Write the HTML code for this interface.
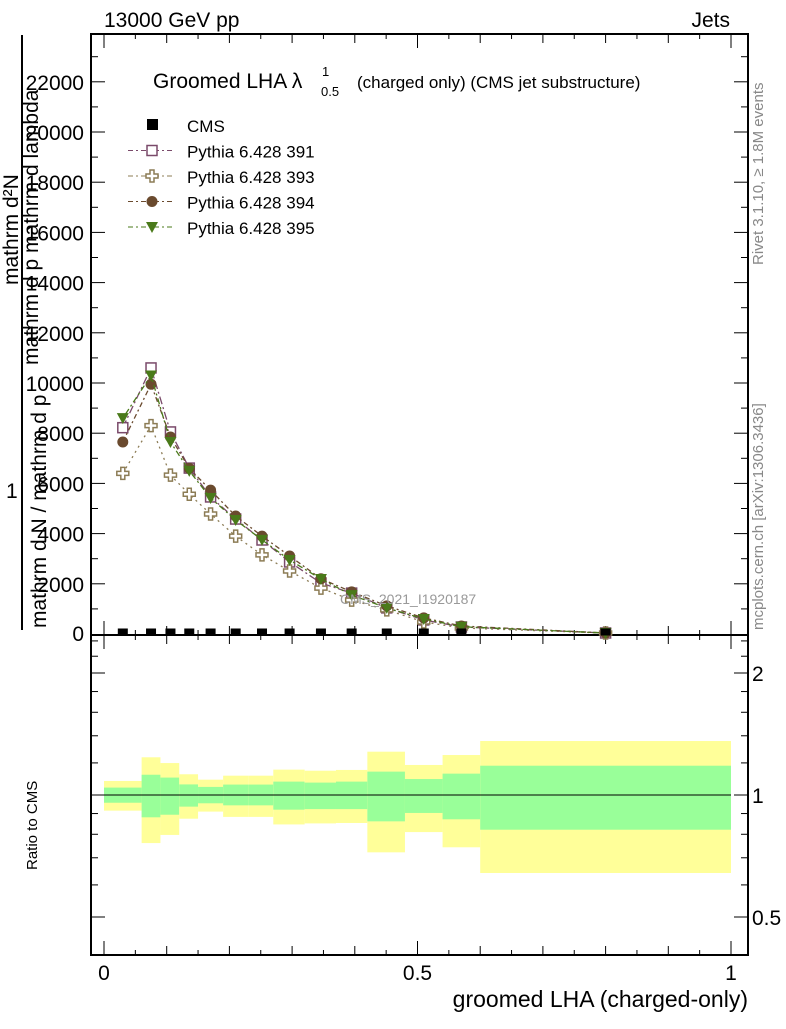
<!DOCTYPE html>
<html><head><meta charset="utf-8"><style>
body{margin:0;background:#fff;}
svg text{font-family:"Liberation Sans",sans-serif;}
</style></head><body>
<svg id="chart" width="786" height="1024" xmlns="http://www.w3.org/2000/svg">
<g id="g"></g>
</svg>
<script>
const binEdges=[0,0.06,0.09,0.12,0.15,0.19,0.23,0.27,0.32,0.37,0.42,0.48,0.54,0.6,1.0];
const xCenters=[0.03,0.075,0.106,0.136,0.17,0.21,0.252,0.296,0.346,0.395,0.451,0.51,0.57,0.8];
const cmsVals=[60,60,60,60,60,60,60,60,60,60,60,60,60,60];
const p391=[8220,10600,8050,6610,5460,4580,3745,2870,2030,1630,1040,560,280,40];
const p393=[6400,8300,6330,5570,4780,3900,3150,2510,1830,1350,960,480,240,40];
const p394=[7650,9950,7850,6600,5730,4700,3900,3110,2200,1680,1120,640,320,40];
const p395=[8600,10300,7650,6500,5420,4540,3750,2950,2190,1550,1040,600,290,40];
const yellowHi=[1.083,1.239,1.199,1.125,1.091,1.116,1.116,1.155,1.148,1.153,1.279,1.186,1.255,1.359];
const yellowLo=[0.915,0.761,0.797,0.874,0.910,0.883,0.883,0.846,0.851,0.853,0.722,0.810,0.743,0.642];
const greenHi=[1.043,1.122,1.104,1.062,1.047,1.061,1.061,1.079,1.073,1.079,1.142,1.095,1.129,1.181];
const greenLo=[0.957,0.881,0.894,0.936,0.954,0.943,0.943,0.920,0.923,0.923,0.861,0.903,0.871,0.821];
const mainTicks=[2000,4000,6000,8000,10000,12000,14000,16000,18000,20000,22000];
const ratioTicks=[0.5,1,2];

const NS="http://www.w3.org/2000/svg";
const g=document.getElementById('g');
function el(t,a,p){const e=document.createElementNS(NS,t);for(const k in a)e.setAttribute(k,a[k]);(p||g).appendChild(e);return e;}
const L=91,R=748,T=34,MB=635,RB=955;
const X=v=>104+v*627;
const Y=v=>634-v*0.0251;
const YR=v=>795-Math.log2(v)*122;

binEdges.slice(0,-1).forEach((e,i)=>{
 const x0=X(e),x1=X(binEdges[i+1]);
 const r=el('rect',{x:x0,y:YR(yellowHi[i]),width:x1-x0,height:YR(yellowLo[i])-YR(yellowHi[i]),fill:'#ffff99'});
 
 
 const r2=el('rect',{x:x0,y:YR(greenHi[i]),width:x1-x0,height:YR(greenLo[i])-YR(greenHi[i]),fill:'#99ff99'});
 
 
});
el('line',{x1:X(0),x2:X(1),y1:YR(1),y2:YR(1),stroke:'#000','stroke-width':1});

el('rect',{x:L,y:T,width:R-L,height:MB-T,fill:'none',stroke:'#000','stroke-width':2});
el('rect',{x:L,y:MB,width:R-L,height:RB-MB,fill:'none',stroke:'#000','stroke-width':2});

for(let v=1000;v<=23000;v+=1000){
 const maj=v%2000==0, y=Y(v);
 el('line',{x1:L,x2:L+(maj?14:7),y1:y,y2:y,stroke:'#000'});
 el('line',{x1:R,x2:R-(maj?14:7),y1:y,y2:y,stroke:'#000'});
}
mainTicks.forEach(v=>{const t=el('text',{x:84,y:Y(v)+8,'text-anchor':'end','font-size':21});t.textContent=v;
 });
{const t=el('text',{x:84,y:641,'text-anchor':'end','font-size':21});t.textContent='0';}
for(let i=0;i<=20;i++){const v=i*0.05,x=X(v),maj=i%10==0,mid=i%2==0;
 const h=maj?14:(mid?9:5);
 el('line',{x1:x,x2:x,y1:MB,y2:MB-h,stroke:'#000'});el('line',{x1:x,x2:x,y1:T,y2:T+h,stroke:'#000'});
 el('line',{x1:x,x2:x,y1:RB,y2:RB-h,stroke:'#000'});el('line',{x1:x,x2:x,y1:MB,y2:MB+h,stroke:'#000'});}
[[0,'0'],[0.5,'0.5'],[1,'1']].forEach(([v,s])=>{const t=el('text',{x:X(v),y:980,'text-anchor':'middle','font-size':21});t.textContent=s;
 });
[0.4,0.5,0.6,0.7,0.8,0.9,1,1.2,1.4,1.6,1.8,2,2.2,2.4].forEach(v=>{const y=YR(v);if(y<MB||y>RB)return;
 const maj=ratioTicks.includes(v);el('line',{x1:L,x2:L+(maj?14:7),y1:y,y2:y,stroke:'#000'});el('line',{x1:R,x2:R-(maj?14:7),y1:y,y2:y,stroke:'#000'});});
ratioTicks.forEach(v=>{const t=el('text',{x:752,y:YR(v)+8,'font-size':21});t.textContent=String(v);
 });

const series=[[p391,'#7a4a6a','8,3,2,3','sq'],[p393,'#8c7c55','2,4','cross'],[p394,'#6a4a2e','5,3,2,3','circ'],[p395,'#4a7a1a','2,3,6,3','tri']];
function marker(type,x,y,c){
 if(type=='sq')return el('rect',{x:x-5,y:y-5,width:10,height:10,fill:'#fff',stroke:c,'stroke-width':1.5});
 if(type=='circ')return el('circle',{cx:x,cy:y,r:5.5,fill:c});
 if(type=='tri')return el('path',{d:`M${x-6},${y-5}L${x+6},${y-5}L${x},${y+6}Z`,fill:c});
 if(type=='cross')return el('path',{d:`M${x-2},${y-6}h4v4h4v4h-4v4h-4v-4h-4v-4h4Z`,fill:'#fff',stroke:c,'stroke-width':1.5});
}
series.forEach(([vals,c,dash,m])=>{
 const pl=el('polyline',{points:vals.map((v,i)=>X(xCenters[i])+','+Y(v)).join(' '),fill:'none',stroke:c,'stroke-width':1.3,'stroke-dasharray':dash});
 
 vals.forEach((v,i)=>{const mk=marker(m,X(xCenters[i]),Y(v),c);});
});
cmsVals.forEach((v,i)=>{const r=el('rect',{x:X(xCenters[i])-5,y:Y(v)-4,width:10,height:7,fill:'#000'});
 });

const leg=[['CMS',null],['Pythia 6.428 391',0],['Pythia 6.428 393',1],['Pythia 6.428 394',2],['Pythia 6.428 395',3]];
leg.forEach(([s,k],i)=>{const y=125+i*25.5;
 if(k===null){el('rect',{x:147,y:y-6,width:11,height:11,fill:'#000'});}
 else{const [v,c,d,m]=series[k];el('line',{x1:128,x2:175,y1:y,y2:y,stroke:c,'stroke-dasharray':'5,3,2,3'});marker(m,152,y,c);}
 const t=el('text',{x:187,y:y+7,'font-size':17});t.textContent=s;
 });
</script>
<svg width="786" height="1024" style="position:absolute;left:0;top:0" xmlns="http://www.w3.org/2000/svg">
<text x="104" y="27" font-size="21">13000 GeV pp</text>
<text x="730" y="27" font-size="21" text-anchor="end">Jets</text>
<text x="153" y="88" font-size="21">Groomed LHA λ</text>
<text x="322" y="76" font-size="13">1</text>
<text x="321" y="96" font-size="13">0.5</text>
<text x="357" y="88" font-size="17">(charged only) (CMS jet substructure)</text>
<text x="340" y="604" font-size="14" fill="#999">CMS_2021_I1920187</text>
<line x1="22" y1="35" x2="22" y2="630" stroke="#000" stroke-width="2"/>
<text transform="translate(18,285) rotate(-90)" font-size="21">mathrm d²N</text>
<text transform="translate(38,365) rotate(-90)" font-size="21">mathrm d p mathrm d lambda</text>
<text transform="translate(46,628) rotate(-90)" font-size="21">mathrm d N / mathrm d p</text>
<text x="6" y="498" font-size="21">1</text>
<text transform="translate(37,870) rotate(-90)" font-size="15">Ratio to CMS</text>
<text x="748" y="1007" font-size="23" text-anchor="end">groomed LHA (charged-only)</text>
<text transform="translate(763,265) rotate(-90)" font-size="15" fill="#888">Rivet 3.1.10, ≥ 1.8M events</text>
<text transform="translate(763,630) rotate(-90)" font-size="15" fill="#888">mcplots.cern.ch [arXiv:1306.3436]</text>
</svg>
</body></html>
